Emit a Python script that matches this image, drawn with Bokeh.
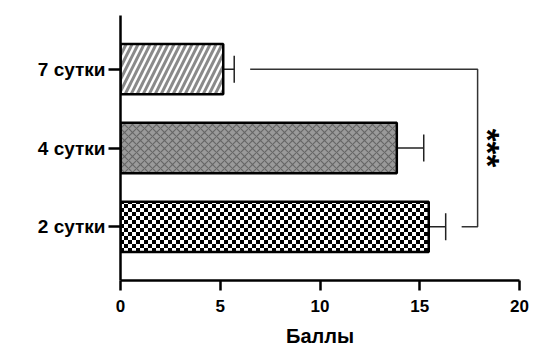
import math, zlib, struct, base64
from bokeh.plotting import figure
from bokeh.models import (ColumnDataSource, FactorRange, Whisker, TeeHead, Label,
                          ImageURLTexture, FixedTicker)
from bokeh.core.properties import value
from bokeh.embed import file_html
from bokeh.resources import INLINE

# ---- data ----
categories = ["2 сутки", "4 сутки", "7 сутки"]
means = [15.45, 13.85, 5.15]
errors = [0.85, 1.35, 0.55]
x_ticks = [0, 5, 10, 15, 20]
x_label = "Баллы"
signif = "***"

FONT = "Liberation Sans"


def checker_png(sq):
    n = 2 * sq
    rows = []
    for r in range(n):
        row = bytearray()
        for c in range(n):
            black = ((r // sq) + (c // sq)) % 2 == 0
            row.append(0 if black else 255)
        rows.append(b"\x00" + bytes(row))
    raw = b"".join(rows)

    def chunk(t, d):
        return struct.pack(">I", len(d)) + t + d + struct.pack(">I", zlib.crc32(t + d) & 0xffffffff)

    data = (b"\x89PNG\r\n\x1a\n" + chunk(b"IHDR", struct.pack(">IIBBBBB", n, n, 8, 0, 0, 0, 0))
            + chunk(b"IDAT", zlib.compress(raw)) + chunk(b"IEND", b""))
    return "data:image/png;base64," + base64.b64encode(data).decode()


p = figure(width=533, height=349, output_backend="svg", toolbar_location=None,
           y_range=FactorRange(factors=categories, range_padding=0.18,
                               range_padding_units="absolute"),
           x_range=(0, 20),
           min_border_left=120, min_border_right=14, min_border_top=15,
           min_border_bottom=67)
p.outline_line_color = None
p.grid.visible = False
p.background_fill_color = "white"

extras = {"checker": ImageURLTexture(url=checker_png(4))}

styles = {
    "2 сутки": dict(fill_color="white", hatch_pattern=value("checker"), hatch_color="black",
                    hatch_scale=8, hatch_weight=1),
    "4 сутки": dict(fill_color="#9a9a9a", hatch_pattern=value("x"), hatch_color="#666666",
                    hatch_scale=8, hatch_weight=1.2),
    "7 сутки": dict(fill_color="white", hatch_pattern=value("/"), hatch_color="#8a8a8a",
                    hatch_scale=12, hatch_weight=3),
}

for cat, m in zip(categories, means):
    src = ColumnDataSource(dict(y=[cat], right=[m]))
    p.hbar(y="y", left=0, right="right", height=0.64, source=src,
           line_color="black", line_width=2.5,
           hatch_extra=extras, **styles[cat])

err_src = ColumnDataSource(dict(
    base=categories,
    lower=means,
    upper=[m + e for m, e in zip(means, errors)],
))
w = Whisker(base="base", lower="lower", upper="upper", dimension="width",
            source=err_src, line_color="#222222", line_width=1.5,
            lower_head=None,
            upper_head=TeeHead(size=27, line_color="#222222", line_width=1.5))
p.add_layout(w)

# significance bracket between 7 сутки and 2 сутки
br_x = [6.5, 17.9, 17.9, 17.1]
br_y = ["7 сутки", "7 сутки", "2 сутки", "2 сутки"]
p.line(br_x, br_y, line_color="#333333", line_width=1.5)

p.add_layout(Label(x=18.4, y=1.5, text=signif, angle=-math.pi / 2,
                   text_align="center", text_baseline="middle",
                   text_font=FONT, text_font_size="33px", text_font_style="bold",
                   text_color="black"))

# axes
p.xaxis.ticker = FixedTicker(ticks=x_ticks)
p.xaxis.minor_tick_line_color = None
p.xaxis.axis_label = x_label
for ax in (p.xaxis, p.yaxis):
    ax.axis_line_width = 2.5
    ax.axis_line_color = "black"
    ax.major_tick_line_width = 2.5
    ax.major_tick_line_color = "black"
    ax.major_tick_in = 0
    ax.major_label_text_font = FONT
    ax.major_label_text_font_style = "bold"
    ax.major_label_text_color = "black"
p.xaxis.major_label_text_font_size = "17px"
p.yaxis.major_label_text_font_size = "19px"
p.xaxis.major_tick_out = 10
p.yaxis.major_tick_out = 12
p.xaxis.major_label_standoff = 9
p.yaxis.major_label_standoff = 3
p.xaxis.axis_label_text_font = FONT
p.xaxis.axis_label_text_font_style = "bold"
p.xaxis.axis_label_text_font_size = "20px"
p.xaxis.axis_label_text_color = "black"
p.xaxis.axis_label_standoff = 10

open("out.html", "w").write(file_html(p, INLINE))
